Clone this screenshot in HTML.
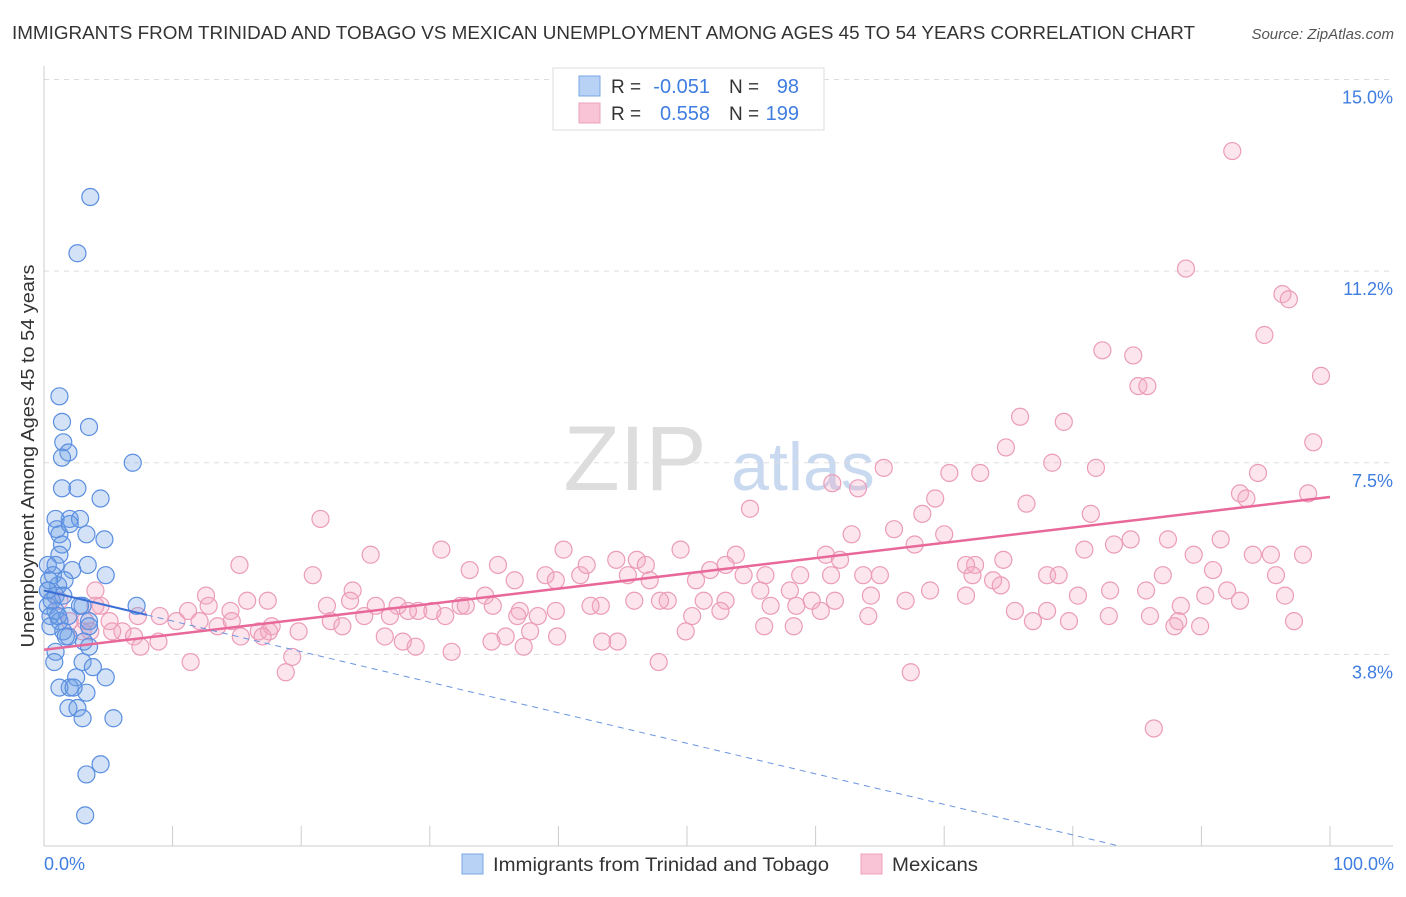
<!DOCTYPE html>
<html><head><meta charset="utf-8"><style>
body{margin:0;background:#fff;font-family:"Liberation Sans",sans-serif;}
svg text{font-family:"Liberation Sans",sans-serif;}
</style></head><body>
<svg id="chart" width="1406" height="892" viewBox="0 0 1406 892">
<text x="12" y="39" font-size="18" fill="#333" textLength="1183" lengthAdjust="spacingAndGlyphs">IMMIGRANTS FROM TRINIDAD AND TOBAGO VS MEXICAN UNEMPLOYMENT AMONG AGES 45 TO 54 YEARS CORRELATION CHART</text>
<text x="1394" y="39" font-size="15" fill="#555" font-style="italic" text-anchor="end">Source: ZipAtlas.com</text>
<text x="0" y="0" transform="translate(34,456) rotate(-90)" font-size="18" fill="#333" text-anchor="middle" textLength="383" lengthAdjust="spacingAndGlyphs">Unemployment Among Ages 45 to 54 years</text>
<g><text x="635" y="490" font-size="92" fill="#ddd" font-family="Liberation Serif" text-anchor="middle">ZIP</text><text x="803" y="490" font-size="68" fill="#c9d9f0" text-anchor="middle">atlas</text></g>
<g id="grid"></g>
<g id="marks"></g>
<g>
<rect x="553" y="68" width="271" height="62" fill="#fff" stroke="#ddd"/>
<rect x="579" y="76" width="21" height="20" fill="#b8d2f5" stroke="#7aa7e6"/>
<rect x="579" y="103" width="21" height="20" fill="#f9c5d6" stroke="#eca0ba"/>
<text x="611" y="93" font-size="19" fill="#333">R =</text><text x="710" y="93" font-size="20" fill="#3f7de0" text-anchor="end">-0.051</text>
<text x="729" y="93" font-size="19" fill="#333">N =</text><text x="799" y="93" font-size="20" fill="#3f7de0" text-anchor="end">98</text>
<text x="611" y="120" font-size="19" fill="#333">R =</text><text x="710" y="120" font-size="20" fill="#3f7de0" text-anchor="end">0.558</text>
<text x="729" y="120" font-size="19" fill="#333">N =</text><text x="799" y="120" font-size="20" fill="#3f7de0" text-anchor="end">199</text>
</g>
<g>
<rect x="462" y="854" width="21" height="20" fill="#b8d2f5" stroke="#7aa7e6"/>
<text x="493" y="871" font-size="19.5" fill="#333" textLength="336" lengthAdjust="spacingAndGlyphs">Immigrants from Trinidad and Tobago</text>
<rect x="861" y="854" width="21" height="20" fill="#f9c5d6" stroke="#eca0ba"/>
<text x="892" y="871" font-size="19.5" fill="#333" textLength="86" lengthAdjust="spacingAndGlyphs">Mexicans</text>
</g>
<text x="44" y="870" font-size="18" fill="#3f7de0">0.0%</text>
<text x="1394" y="870" font-size="18" fill="#3f7de0" text-anchor="end">100.0%</text>
</svg>
<script>
const yTicks=[3.75,7.5,11.25,15];
const yTickLabels=["3.8%","7.5%","11.2%","15.0%"];
const xTicks=[0,10,20,30,40,50,60,70,80,90,100];
const blueX=[3.6,2.6,1.2,1.4,3.5,1.5,1.9,1.4,6.9,1.4,2.6,4.4,2.0,0.9,2.8,1.0,1.2,2.0,4.7,3.3,1.4,1.2,0.3,0.9,3.4,2.2,4.8,0.7,1.6,0.4,1.1,0.3,0.9,1.5,3.0,2.8,0.3,0.9,7.2,0.5,1.9,1.2,3.5,0.5,1.5,1.9,3.5,3.1,1.7,0.9,3.5,0.8,3.0,3.8,4.8,2.5,2.0,1.2,3.3,2.3,1.9,2.6,3.0,5.4,4.4,3.3,3.2,0.3,0.6,1.1];
const blueY=[12.7,11.6,8.8,8.3,8.2,7.9,7.7,7.6,7.5,7.0,7.0,6.8,6.4,6.4,6.4,6.2,6.1,6.3,6.0,6.1,5.9,5.7,5.5,5.5,5.5,5.4,5.3,5.3,5.2,5.2,5.1,5.0,4.9,4.9,4.7,4.7,4.7,4.6,4.7,4.5,4.5,4.4,4.4,4.3,4.2,4.1,4.3,4.0,4.1,3.8,3.9,3.6,3.6,3.5,3.3,3.3,3.1,3.1,3.0,3.1,2.7,2.7,2.5,2.5,1.6,1.4,0.6,5.0,4.8,4.5];
const pinkX=[92.4,88.8,96.3,96.8,94.9,82.3,84.7,85.1,85.8,99.3,75.9,79.3,98.7,74.8,65.3,78.4,81.8,94.4,70.4,72.8,93.0,93.5,98.3,61.3,63.3,69.3,76.4,54.9,68.3,21.5,81.4,62.8,66.1,70.0,87.4,91.5,83.2,84.5,67.7,30.9,40.4,49.5,25.4,80.9,89.4,94.0,95.4,97.9,53.8,44.5,46.1,46.8,35.3,15.2,60.8,61.9,72.4,74.6,51.8,53.0,61.2,56.1,63.7,71.7,90.9,20.9,33.1,39.0,41.7,42.2,47.1,50.7,45.4,54.4,58.8,65.0,72.2,78.0,78.9,87.0,95.8,36.6,39.8,24.0,12.6,15.8,12.8,11.2,9.0,14.5,17.4,23.8,22.0,25.8,27.5,29.1,30.2,32.4,34.3,37.0,38.4,43.3,45.9,48.5,51.3,53.0,55.7,58.0,59.7,61.5,64.3,67.0,68.9,71.7,73.8,74.4,80.4,82.9,85.7,88.4,90.3,92.0,96.5,5.1,7.3,10.3,12.1,13.5,14.6,16.7,17.7,19.8,22.3,23.2,24.9,26.9,28.3,31.2,32.8,34.9,36.8,39.8,42.5,47.9,50.4,52.6,56.5,58.5,60.4,64.1,75.5,78.0,82.8,86.0,88.2,93.0,97.2,76.9,87.9,89.9,79.7,56.0,58.3,49.9,44.6,43.4,39.9,37.8,35.9,34.8,37.3,31.7,28.9,27.9,26.5,17.5,17.0,15.3,6.1,7.0,8.9,7.5,11.4,19.3,18.8,47.8,67.4,86.3,4.4,4.0,3.2,2.0,1.2,3.0,5.3,3.6,4.0];
const pinkY=[13.6,11.3,10.8,10.7,10.0,9.7,9.6,9.0,9.0,9.2,8.4,8.3,7.9,7.8,7.4,7.5,7.4,7.3,7.3,7.3,6.9,6.8,6.9,7.1,7.0,6.8,6.7,6.6,6.5,6.4,6.5,6.1,6.2,6.1,6.0,6.0,5.9,6.0,5.9,5.8,5.8,5.8,5.7,5.8,5.7,5.7,5.7,5.7,5.7,5.6,5.6,5.5,5.5,5.5,5.7,5.6,5.5,5.6,5.4,5.5,5.3,5.3,5.3,5.5,5.4,5.3,5.4,5.3,5.3,5.5,5.2,5.2,5.3,5.3,5.3,5.3,5.3,5.3,5.3,5.3,5.3,5.2,5.2,5.0,4.9,4.8,4.7,4.6,4.5,4.6,4.8,4.8,4.7,4.7,4.7,4.6,4.6,4.7,4.9,4.6,4.5,4.7,4.8,4.8,4.8,4.8,5.0,5.0,4.8,4.8,4.9,4.8,5.0,4.9,5.2,5.1,4.9,5.0,5.0,4.7,4.9,5.0,4.9,4.4,4.5,4.4,4.4,4.3,4.4,4.2,4.3,4.2,4.4,4.3,4.5,4.5,4.6,4.5,4.7,4.7,4.5,4.6,4.7,4.8,4.5,4.6,4.7,4.7,4.6,4.5,4.6,4.6,4.5,4.5,4.4,4.8,4.4,4.4,4.3,4.3,4.4,4.3,4.3,4.2,4.0,4.0,4.1,4.2,4.1,4.0,3.9,3.8,3.9,4.0,4.1,4.2,4.1,4.1,4.2,4.1,4.0,3.9,3.6,3.7,3.4,3.6,3.4,2.3,4.7,5.0,4.4,4.4,4.8,4.2,4.2,4.2,4.7];
const pinkTrend=[3.84,6.83];
const blueTrend=[5.0,-0.0598];
const NS="http://www.w3.org/2000/svg";
const xS=v=>44+v*12.86;
const yS=v=>846-v*51.1;
const grid=document.getElementById('grid');
const marks=document.getElementById('marks');
function mk(tag,attrs,parent){const e=document.createElementNS(NS,tag);for(const k in attrs)e.setAttribute(k,attrs[k]);parent.appendChild(e);return e;}
mk('line',{x1:44,y1:yS(15),x2:1393,y2:yS(15),stroke:'#ddd','stroke-dasharray':'5,5'},grid);
yTicks.forEach((t,i)=>{
  const l=mk('line',{x1:44,y1:yS(t),x2:1393,y2:yS(t),stroke:'#ddd','stroke-dasharray':'5,5'},grid);
  
  
  const tx=mk('text',{x:1393,y:yS(t)+24,'font-size':18,fill:'#3f7de0','text-anchor':'end'},grid);
  tx.textContent=yTickLabels[i];
  
  
});
mk('line',{x1:44,y1:66,x2:44,y2:846,stroke:'#ccc'},grid);
mk('line',{x1:44,y1:846,x2:1393,y2:846,stroke:'#ccc'},grid);
xTicks.forEach(t=>{
  const l=mk('line',{x1:xS(t),y1:826,x2:xS(t),y2:846,stroke:'#ccc'},grid);
  
  
});
pinkX.forEach((x,i)=>{
  const c=mk('circle',{cx:xS(x),cy:yS(pinkY[i]),r:8.5,fill:'rgba(244,168,195,0.3)',stroke:'#eb9cb8','stroke-width':1.2},marks);
  
  
});
blueX.forEach((x,i)=>{
  const c=mk('circle',{cx:xS(x),cy:yS(blueY[i]),r:8.5,fill:'rgba(110,160,230,0.3)',stroke:'#5a8ee0','stroke-width':1.2},marks);
  
  
});
const pl=mk('line',{x1:xS(0),y1:yS(pinkTrend[0]),x2:xS(100),y2:yS(pinkTrend[1]),stroke:'#e8689a','stroke-width':2.5},marks);


const bEnd=-blueTrend[0]/blueTrend[1];
const bl1=mk('line',{x1:xS(0),y1:yS(blueTrend[0]),x2:xS(8),y2:yS(blueTrend[0]+blueTrend[1]*8),stroke:'#3b6fd6','stroke-width':2},marks);


const bl2=mk('line',{x1:xS(8),y1:yS(blueTrend[0]+blueTrend[1]*8),x2:xS(bEnd),y2:yS(0),stroke:'#6b95e0','stroke-width':1,'stroke-dasharray':'6,5'},marks);


</script>
</body></html>
